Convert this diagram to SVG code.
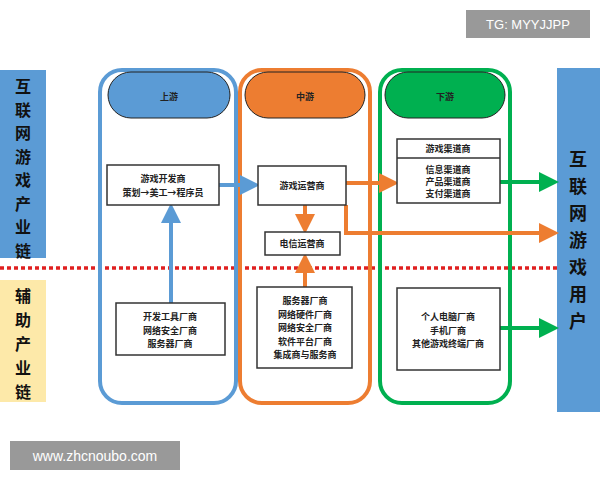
<svg xmlns="http://www.w3.org/2000/svg" width="600" height="480" viewBox="0 0 600 480">
<defs>
<style>
text{font-family:"Noto Sans CJK SC","Liberation Sans",sans-serif;text-anchor:middle;fill:#222}
.b{fill:#fff;stroke:#333;stroke-width:1.5}
.t{font-size:9px;font-weight:bold}
.v{font-size:16px;font-weight:bold;fill:#111}
.r{font-size:18px;font-weight:bold;fill:#111}
</style>
<marker id="ab" markerWidth="5" markerHeight="5" refX="2.5" refY="2.5" orient="auto" markerUnits="strokeWidth"><path d="M0,0L5,2.5L0,5z" fill="#5b9bd5"/></marker>
<marker id="ao" markerWidth="5" markerHeight="5" refX="2.5" refY="2.5" orient="auto" markerUnits="strokeWidth"><path d="M0,0L5,2.5L0,5z" fill="#ed7d31"/></marker>
<marker id="ag" markerWidth="5" markerHeight="5" refX="2.5" refY="2.5" orient="auto" markerUnits="strokeWidth"><path d="M0,0L5,2.5L0,5z" fill="#00b050"/></marker>
</defs>
<rect width="600" height="480" fill="#fff"/>
<g id="label-left-top"><rect x="0" y="70" width="46" height="188" fill="#5b9bd5"/><text class="v" x="23" y="92">互</text><text class="v" x="23" y="115.5">联</text><text class="v" x="23" y="139">网</text><text class="v" x="23" y="162.5">游</text><text class="v" x="23" y="186">戏</text><text class="v" x="23" y="209.5">产</text><text class="v" x="23" y="233">业</text><text class="v" x="23" y="256.5">链</text></g>
<g id="label-left-bottom"><rect x="0" y="280" width="46" height="122" fill="#fde9a9"/><text class="v" x="23" y="302">辅</text><text class="v" x="23" y="326">助</text><text class="v" x="23" y="350">产</text><text class="v" x="23" y="374">业</text><text class="v" x="23" y="398">链</text></g>
<g id="label-right"><rect x="557" y="68" width="43" height="344" fill="#5b9bd5"/><text class="r" x="578" y="166">互</text><text class="r" x="578" y="193">联</text><text class="r" x="578" y="220">网</text><text class="r" x="578" y="247">游</text><text class="r" x="578" y="274">戏</text><text class="r" x="578" y="301">用</text><text class="r" x="578" y="328">户</text></g>
<line x1="0" y1="268" x2="557" y2="268" stroke="#e02020" stroke-width="3.5" stroke-dasharray="4,3"/>
<g id="col-up"><rect x="100" y="70" width="136" height="333" rx="22" fill="none" stroke="#5b9bd5" stroke-width="4"/><rect x="108" y="72" width="122" height="46" rx="23" fill="#5b9bd5" stroke="#222" stroke-width="1"/><text x="169" y="100" class="t" font-size="10">上游</text></g>
<g id="col-mid"><rect x="240" y="70" width="130" height="333" rx="22" fill="none" stroke="#ed7d31" stroke-width="4"/><rect x="245" y="72" width="120" height="46" rx="23" fill="#ed7d31" stroke="#222" stroke-width="1"/><text x="305" y="100" class="t" font-size="10">中游</text></g>
<g id="col-down"><rect x="380" y="70" width="130" height="333" rx="22" fill="none" stroke="#00b050" stroke-width="4"/><rect x="385" y="72" width="120" height="46" rx="23" fill="#00b050" stroke="#222" stroke-width="1"/><text x="445" y="100" class="t" font-size="10">下游</text></g>
<g id="connectors" fill="none" stroke-width="4">
<line x1="219" y1="185" x2="250" y2="185" stroke="#5b9bd5" marker-end="url(#ab)"/>
<line x1="171" y1="303" x2="171" y2="213" stroke="#5b9bd5" marker-end="url(#ab)"/>
<line x1="346" y1="183" x2="389" y2="183" stroke="#ed7d31" marker-end="url(#ao)"/>
<polyline points="346,205 346,233 549,233" stroke="#ed7d31" marker-end="url(#ao)"/>
<line x1="305" y1="205" x2="305" y2="224" stroke="#ed7d31" marker-end="url(#ao)"/>
<line x1="305" y1="287" x2="305" y2="263" stroke="#ed7d31" marker-end="url(#ao)"/>
<line x1="500" y1="182" x2="549" y2="182" stroke="#00b050" marker-end="url(#ag)"/>
<line x1="500" y1="328" x2="549" y2="328" stroke="#00b050" marker-end="url(#ag)"/>
</g>
<g id="dev"><rect class="b" x="107" y="165" width="112" height="40"/><text class="t" x="163" y="182">游戏开发商</text><text class="t" x="163" y="196">策划→美工→程序员</text></g>
<g id="op"><rect class="b" x="258" y="166" width="88" height="39"/><text class="t" x="302" y="189">游戏运营商</text></g>
<g id="tel"><rect class="b" x="265" y="232" width="75" height="23"/><text class="t" x="302" y="247">电信运营商</text></g>
<g id="chan"><rect class="b" x="397" y="139" width="103" height="64"/><line x1="397" y1="158" x2="500" y2="158" stroke="#333" stroke-width="1.5"/><text class="t" x="448" y="152">游戏渠道商</text><text class="t" x="448" y="173" font-size="8">信息渠道商</text><text class="t" x="448" y="185" font-size="8">产品渠道商</text><text class="t" x="448" y="197" font-size="8">支付渠道商</text></g>
<g id="tools"><rect class="b" x="116" y="303" width="109" height="52"/><text class="t" x="170" y="320">开发工具厂商</text><text class="t" x="170" y="333.5">网络安全厂商</text><text class="t" x="170" y="347">服务器厂商</text></g>
<g id="hw"><rect class="b" x="257" y="287" width="95" height="81"/><text class="t" x="305" y="304">服务器厂商</text><text class="t" x="305" y="317.5">网络硬件厂商</text><text class="t" x="305" y="331">网络安全厂商</text><text class="t" x="305" y="344.5">软件平台厂商</text><text class="t" x="305" y="358">集成商与服务商</text></g>
<g id="term"><rect class="b" x="397" y="288" width="103" height="82"/><text class="t" x="448" y="320">个人电脑厂商</text><text class="t" x="448" y="333.5">手机厂商</text><text class="t" x="448" y="347">其他游戏终端厂商</text></g>
<g id="tag"><rect x="466" y="10" width="124" height="28" fill="#999"/><text x="528" y="29" font-size="13" style="fill:#fff;font-family:'Liberation Sans',sans-serif">TG: MYYJJPP</text></g>
<g id="url"><rect x="10" y="441" width="170" height="29" fill="#999"/><text x="95" y="461" font-size="14" style="fill:#fff;font-family:'Liberation Sans',sans-serif">www.zhcnoubo.com</text></g>
</svg>
